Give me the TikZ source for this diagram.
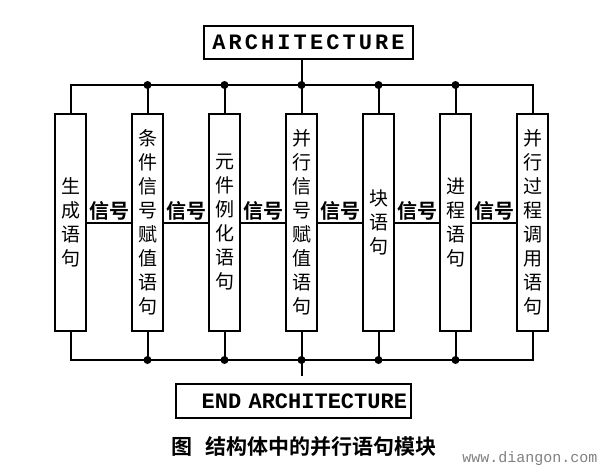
\documentclass[tikz,border=0pt]{standalone}
\usepackage{fontspec}
\newfontfamily\cjk[BoldFont=Noto Sans CJK SC Bold]{Noto Sans CJK SC}
\newfontfamily\monofont{Liberation Mono}
\newfontfamily\spacedmono[LetterSpace=14]{Liberation Mono}

\tikzset{
  stmt/.style={draw, minimum width=31pt, minimum height=217pt, inner sep=0pt,
    align=center, font=\cjk\fontsize{19}{24}\selectfont},
  sig/.style={font=\cjk\bfseries\fontsize{20}{20}\selectfont, inner sep=1pt},
  jdot/.style={circle, fill, inner sep=0pt, minimum size=8pt},
  archbox/.style={draw, inner sep=0pt, font=\bfseries\fontsize{22}{22}\selectfont},
}

\begin{document}
\begin{tikzpicture}[x=1pt, y=-1pt, line width=2pt]
\useasboundingbox (0,0) rectangle (603,474); % whole page
\node[stmt] (s1) at (70.5,222.5)  {生\\成\\语\\句};
\node[stmt] (s2) at (147.5,222.5) {条\\件\\信\\号\\赋\\值\\语\\句};
\node[stmt] (s3) at (224.5,222.5) {元\\件\\例\\化\\语\\句};
\node[stmt] (s4) at (301.5,222.5) {并\\行\\信\\号\\赋\\值\\语\\句};
\node[stmt] (s5) at (378.5,222.5) {块\\语\\句};
\node[stmt] (s6) at (455.5,222.5) {进\\程\\语\\句};
\node[stmt] (s7) at (532.5,222.5) {并\\行\\过\\程\\调\\用\\语\\句};
\coordinate (tbus) at (301.5,85);
\coordinate (bbus) at (301.5,360);
\node[archbox, minimum width=209pt, minimum height=33pt] (arch) at (308.5,42.5)
  {\spacedmono\bfseries ARCHITECTURE};
\node[archbox, minimum height=34pt, text width=227pt, inner xsep=4pt, align=right]
  (endarch) at (293.5,401) {\monofont\bfseries END ARCHITECTURE};
% top bus
\draw (arch.south -| tbus) -- (tbus);
\draw (s1.north) -- (s1.north |- tbus) -- (s7.north |- tbus) -- (s7.north);
\draw (s2.north) -- (s2.north |- tbus);
\draw (s3.north) -- (s3.north |- tbus);
\draw (s4.north) -- (tbus);
\draw (s5.north) -- (s5.north |- tbus);
\draw (s6.north) -- (s6.north |- tbus);
\node[jdot] at (s2.north |- tbus) {};
\node[jdot] at (s3.north |- tbus) {};
\node[jdot] at (tbus) {};
\node[jdot] at (s5.north |- tbus) {};
\node[jdot] at (s6.north |- tbus) {};
% bottom bus
\draw (s1.south) -- (s1.south |- bbus) -- (s7.south |- bbus) -- (s7.south);
\draw (s2.south) -- (s2.south |- bbus);
\draw (s3.south) -- (s3.south |- bbus);
\draw (s4.south) -- (bbus);
\draw (s5.south) -- (s5.south |- bbus);
\draw (s6.south) -- (s6.south |- bbus);
\draw[shorten >=7pt] (bbus) -- (endarch.north -| bbus);
\node[jdot] at (s2.south |- bbus) {};
\node[jdot] at (s3.south |- bbus) {};
\node[jdot] at (bbus) {};
\node[jdot] at (s5.south |- bbus) {};
\node[jdot] at (s6.south |- bbus) {};
% signals
\draw (s1.east) -- node[sig, above] {信号} (s2.west);
\draw (s2.east) -- node[sig, above] {信号} (s3.west);
\draw (s3.east) -- node[sig, above] {信号} (s4.west);
\draw (s4.east) -- node[sig, above] {信号} (s5.west);
\draw (s5.east) -- node[sig, above] {信号} (s6.west);
\draw (s6.east) -- node[sig, above] {信号} (s7.west);
\node[font=\cjk\bfseries\fontsize{21}{21}\selectfont] (caption) at (304,447)
  {图\hspace{0.6em}结构体中的并行语句模块};
\node[font=\monofont\fontsize{15}{15}\selectfont, text=gray, inner sep=0pt]
  (wmark) at (530,459) {www.diangon.com};
\end{tikzpicture}
\end{document}
